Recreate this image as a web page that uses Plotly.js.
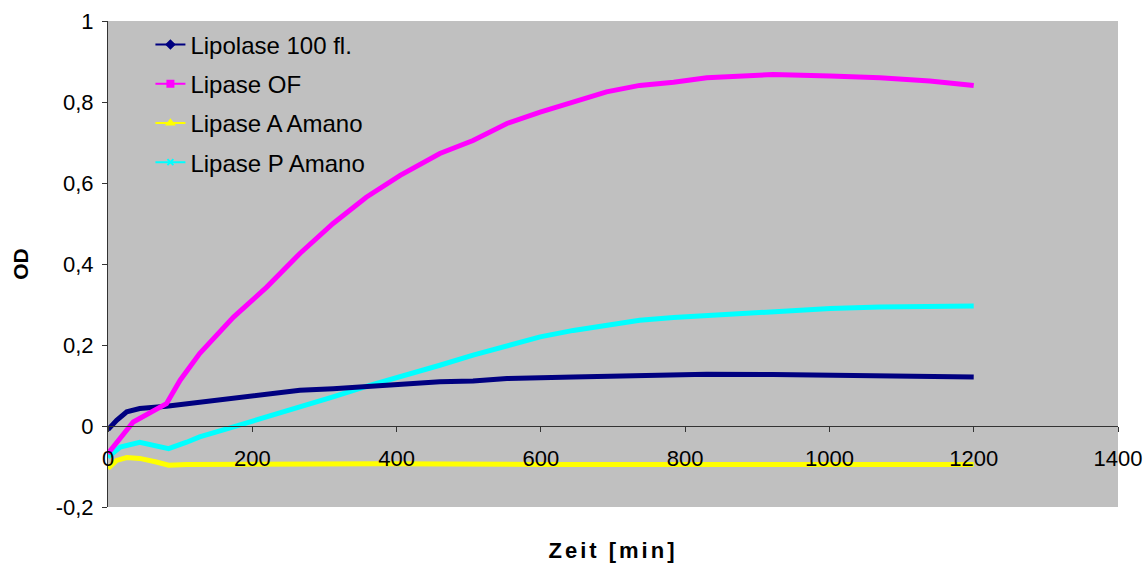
<!DOCTYPE html>
<html>
<head>
<meta charset="utf-8">
<script src="https://cdn.plot.ly/plotly-3.0.1.min.js"></script>
<style>html,body{margin:0;padding:0;background:#fff}#chart{width:1147px;height:566px}
.xtitle{letter-spacing:3px}</style>
</head>
<body>
<div id="chart"></div>
<script>
// Time points (min)
const tLipolase = [0, 12, 26, 44, 81, 127, 174, 220, 266, 312, 358, 405, 460, 506, 553, 645, 737, 830, 922, 1001, 1070, 1139, 1200];
const lipolase100 = [-0.009, 0.014, 0.035, 0.043, 0.049, 0.059, 0.069, 0.078, 0.088, 0.092, 0.098, 0.103, 0.109, 0.111, 0.117, 0.121, 0.125, 0.128, 0.127, 0.125, 0.125, 0.121, 0.121];

const tOF = [0, 35, 81, 100, 127, 174, 220, 266, 312, 358, 405, 460, 506, 553, 599, 645, 691, 737, 784, 830, 876, 922, 1001, 1070, 1139, 1200];
const lipaseOF = [-0.068, 0.010, 0.055, 0.113, 0.179, 0.269, 0.343, 0.426, 0.500, 0.565, 0.619, 0.673, 0.705, 0.747, 0.775, 0.800, 0.825, 0.841, 0.849, 0.860, 0.864, 0.868, 0.864, 0.860, 0.852, 0.841];

const tA = [0, 12, 26, 44, 67, 84, 109, 377, 600, 800, 1000, 1200];
const lipaseAAmano = [-0.105, -0.085, -0.078, -0.080, -0.089, -0.097, -0.095, -0.093, -0.095, -0.094, -0.095, -0.095];

const tP = [0, 17, 44, 63, 84, 109, 127, 174, 220, 266, 312, 358, 405, 460, 506, 553, 599, 645, 691, 737, 784, 830, 876, 922, 1001, 1070, 1139, 1200];
const lipasePAmano = [-0.077, -0.052, -0.040, -0.048, -0.056, -0.040, -0.027, -0.002, 0.022, 0.047, 0.072, 0.098, 0.121, 0.150, 0.175, 0.199, 0.220, 0.236, 0.249, 0.261, 0.268, 0.273, 0.279, 0.284, 0.290, 0.294, 0.296, 0.296];

const seriesNames = ["Lipolase 100 fl.", "Lipase OF", "Lipase A Amano", "Lipase P Amano"];
const yTickVals = [-0.2, 0, 0.2, 0.4, 0.6, 0.8, 1];
const yTickText = ["-0,2", "0", "0,2", "0,4", "0,6", "0,8", "1"];
const xTickVals = [0, 200, 400, 600, 800, 1000, 1200, 1400];

const colors = ["#000080", "#FF00FF", "#FFFF00", "#00FFFF"];
const symbols = ["diamond", "square", "triangle-up", "x-thin-open"];

const xs = [tLipolase, tOF, tA, tP];
const ys = [lipolase100, lipaseOF, lipaseAAmano, lipasePAmano];

const traces = [];
const order = [2, 3, 0, 1];
order.forEach(i => {
  traces.push({
    x: xs[i], y: ys[i], type: 'scatter', mode: 'lines',
    line: {color: colors[i], width: 5}, showlegend: false, hoverinfo: 'skip'
  });
});
for (let i = 0; i < 4; i++) {
  traces.push({
    x: [null], y: [null], type: 'scatter', mode: 'lines+markers',
    name: seriesNames[i], legendgroup: 'g' + i,
    line: {color: colors[i], width: 2},
    marker: {color: colors[i], size: 6, symbol: symbols[i], line: {color: colors[i], width: 2}}
  });
}

const fam = 'Liberation Sans, Arial, sans-serif';

const layout = {
  width: 1147, height: 566,
  margin: {l: 108, r: 29, t: 21, b: 59},
  paper_bgcolor: '#ffffff',
  plot_bgcolor: '#C0C0C0',
  font: {family: fam, size: 22, color: '#000'},
  showlegend: true,
  legend: {
    x: 0.042, y: 0.997, xanchor: 'left', yanchor: 'top',
    bgcolor: 'rgba(0,0,0,0)', borderwidth: 0,
    font: {family: fam, size: 24, color: '#000'},
    tracegroupgap: 5
  },
  xaxis: {
    range: [0, 1400], tickvals: xTickVals, ticktext: xTickVals.map(String),
    anchor: 'free', position: 0.2 / 1.2,
    showline: true, linecolor: '#333', linewidth: 1,
    ticks: 'outside', ticklen: 5, tickcolor: '#333',
    ticklabelstandoff: 8,
    showgrid: false, zeroline: false,
    tickfont: {family: fam, size: 22, color: '#000'},
    title: {text: '<b>Zeit [min]</b>', font: {family: fam, size: 22, color: '#000'}, standoff: 72}
  },
  yaxis: {
    range: [-0.2, 1], tickvals: yTickVals, ticktext: yTickText,
    showline: true, linecolor: '#333', linewidth: 1,
    ticks: 'outside', ticklen: 5, tickcolor: '#333',
    ticklabelstandoff: 4,
    showgrid: false, zeroline: false,
    tickfont: {family: fam, size: 22, color: '#000'},
    title: {text: '<b>OD</b>', font: {family: fam, size: 21, color: '#000'}, standoff: 21}
  }
};

Plotly.newPlot('chart', traces, layout, {displayModeBar: false, staticPlot: true});
</script>
</body>
</html>
